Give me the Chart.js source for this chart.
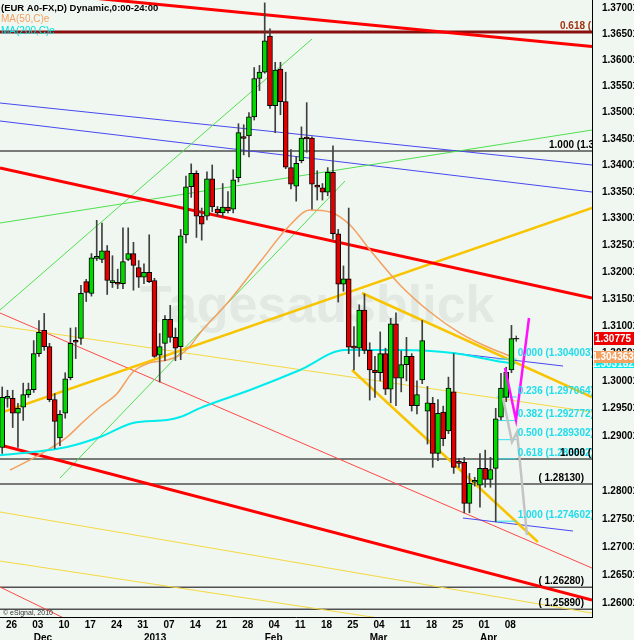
<!DOCTYPE html>
<html><head><meta charset="utf-8">
<script src="https://cdn.jsdelivr.net/npm/chart.js@4.4.0/dist/chart.umd.min.js"></script>
<style>html,body{margin:0;padding:0;background:#f0f7f0;}canvas{display:block;}</style>
</head><body>
<canvas id="c" width="634" height="640" style="width:634px;height:640px"></canvas>
<script>
// ---------------- DATA ----------------
const firstIndex = -2; // trading-day index of first candle (0 = 27 Nov 2012)
const opens  = [1.2879,1.2968,1.2968,1.2941,1.2952,1.2975,1.2984,1.3050,1.3093,1.3063,1.2966,1.2896,1.2941,1.3006,1.3073,1.3078,1.3183,1.3161,1.3226,1.3224,1.3240,1.3181,1.3181,1.3179,1.3224,1.3235,1.3209,1.3191,1.3200,1.3185,1.3047,1.3069,1.3113,1.3080,1.3063,1.3270,1.3360,1.3385,1.3305,1.3305,1.3375,1.3318,1.3311,1.3322,1.3318,1.3377,1.3453,1.3456,1.3492,1.3565,1.3577,1.3646,1.3513,1.3583,1.3521,1.3396,1.3361,1.3409,1.3452,1.3452,1.3363,1.3358,1.3350,1.3387,1.3272,1.3178,1.3188,1.3062,1.3060,1.3130,1.3056,1.3020,1.3015,1.3050,1.2985,1.3105,1.3005,1.3030,1.3045,1.2955,1.3002,1.2945,1.2959,1.2868,1.2943,1.2909,1.2980,1.2852,1.2852,1.2778,1.2816,1.2811,1.2841,1.2821,1.2841,1.2934,1.2970,1.3020];
const highs  = [1.2989,1.2983,1.2983,1.2959,1.2996,1.2996,1.3074,1.3111,1.3124,1.3069,1.2977,1.2946,1.3015,1.3097,1.3098,1.3176,1.3187,1.3235,1.3297,1.3292,1.3250,1.3231,1.3206,1.3283,1.3283,1.3256,1.3222,1.3216,1.3270,1.3189,1.3087,1.3120,1.3139,1.3097,1.3280,1.3380,1.3403,1.3390,1.3320,1.3388,1.3401,1.3323,1.3366,1.3351,1.3392,1.3479,1.3477,1.3500,1.3586,1.3590,1.3710,1.3660,1.3596,1.3596,1.3577,1.3430,1.3417,1.3473,1.3519,1.3454,1.3390,1.3366,1.3396,1.3437,1.3280,1.3212,1.3320,1.3100,1.3140,1.3160,1.3070,1.3045,1.3090,1.3060,1.3115,1.3125,1.3055,1.3080,1.3050,1.3000,1.3111,1.2990,1.2970,1.2966,1.2954,1.3007,1.3050,1.2859,1.2861,1.2832,1.2825,1.2868,1.2874,1.2861,1.2950,1.3014,1.3025,1.3102];
const lows   = [1.2868,1.2952,1.2915,1.2879,1.2928,1.2970,1.2979,1.3045,1.3056,1.2962,1.2877,1.2882,1.2932,1.3002,1.3041,1.3067,1.3146,1.3156,1.3222,1.3218,1.3159,1.3172,1.3170,1.3170,1.3222,1.3167,1.3172,1.3179,1.3181,1.3043,1.2998,1.3037,1.3071,1.3037,1.3039,1.3255,1.3340,1.3265,1.3260,1.3298,1.3313,1.3305,1.3303,1.3311,1.3311,1.3369,1.3420,1.3416,1.3486,1.3542,1.3575,1.3508,1.3462,1.3496,1.3394,1.3356,1.3333,1.3405,1.3425,1.3318,1.3335,1.3335,1.3343,1.3262,1.3145,1.3165,1.3050,1.3020,1.3045,1.3050,1.2965,1.2970,1.3000,1.2975,1.2960,1.2955,1.2980,1.3000,1.2945,1.2940,1.2995,1.2885,1.2843,1.2855,1.2882,1.2904,1.2832,1.2843,1.2761,1.2761,1.2809,1.2771,1.2807,1.2807,1.2745,1.2929,1.2962,1.3015];
const closes = [1.2970,1.2969,1.2941,1.2950,1.2975,1.2984,1.3050,1.3089,1.3063,1.2966,1.2926,1.2939,1.3004,1.3069,1.3071,1.3161,1.3163,1.3227,1.3228,1.3240,1.3185,1.3182,1.3178,1.3220,1.3235,1.3213,1.3191,1.3200,1.3183,1.3045,1.3063,1.3113,1.3080,1.3060,1.3268,1.3360,1.3385,1.3305,1.3290,1.3375,1.3322,1.3311,1.3322,1.3315,1.3373,1.3462,1.3451,1.3492,1.3565,1.3577,1.3637,1.3513,1.3581,1.3521,1.3397,1.3365,1.3404,1.3452,1.3450,1.3365,1.3359,1.3350,1.3387,1.3272,1.3178,1.3188,1.3062,1.3060,1.3130,1.3056,1.3020,1.3015,1.3050,1.2985,1.3105,1.3005,1.3030,1.3045,1.2955,1.2975,1.3074,1.2960,1.2868,1.2941,1.2895,1.2987,1.2843,1.2850,1.2778,1.2814,1.2817,1.2841,1.2821,1.2839,1.2931,1.2987,1.3016,1.30775];
const lastPrice = 1.30775;
const lastMarkIndex = 95.9;

// moving averages (index, value)
const ma50Idx  = [-0.51,4.0,10.34,13.5,16.63,19.8,22.91,26.1,29.39,31.87,33.8,35.68,41.39,47.10,52.82,56.63,60.44,64.25,68.06,73.77,79.49,85.2,90.91,95.3];
const ma50Val  = [1.28381,1.28600,1.28978,1.29260,1.29524,1.29760,1.30163,1.30330,1.30383,1.30475,1.30640,1.30879,1.31488,1.32193,1.32883,1.33163,1.33126,1.32883,1.32416,1.31766,1.31266,1.30879,1.30603,1.304363];
const ma200Idx = [-2.42,3.87,10.34,16.63,22.91,29.39,31.87,35.68,45.2,54.72,63.30,73.77,83.87,93.39,95.68];
const ma200Val = [1.28650,1.28706,1.28797,1.28978,1.29232,1.29287,1.29341,1.29505,1.29834,1.30200,1.30566,1.30566,1.30511,1.30346,1.303182];

// trend lines: [index, price] end points
const redTop      = [[-2.42,1.37368],[110.34,1.36261]];
const redMid      = [[-2.42,1.33952],[110.34,1.31525]];
const redLow      = [[-2.42,1.28833],[110.34,1.26054]];
const redThinA    = [[-2.42,1.31248],[110.34,1.26623]];
const redThinB    = [[-2.42,1.26285],[10.91,1.25683]];
const goldRise    = [[-2.42,1.29415],[110.34,1.33201]];
const goldUpper   = [[66.53,1.31618],[110.34,1.29706]];
const goldLower   = [[64.63,1.30200],[100.06,1.27087]];
const yellowThinA = [[-2.42,1.31008],[110.34,1.29433]];
const yellowThinB = [[-2.42,1.26748],[77.58,1.25626]];
const yellowThinC = [[-2.42,1.27625],[110.34,1.25824]];
const greenA      = [[-2.42,1.31303],[57.01,1.36405]];
const greenB      = [[9.01,1.28237],[63.30,1.33708]];
const greenC      = [[-2.42,1.32920],[110.34,1.34670]];
const blueA       = [[-2.42,1.35183],[110.34,1.34009]];
const blueB       = [[-2.42,1.34841],[110.34,1.33501]];
const blueC       = [[83.87,1.30511],[104.82,1.30273]];
const blueD       = [[85.77,1.27517],[106.72,1.27284]];
const magentaPath = [[93.77,1.30236],[95.87,1.29287],[98.34,1.31156]];
const grayPath    = [[93.39,1.29688],[95.10,1.28887],[96.06,1.29069],[97.96,1.27212]];

// horizontal levels
const levelValues = [1.34273,1.28580,1.28130,1.26280,1.25890];
const levelLabels = ["1.000 (1.34273)","1.000 (1.28580)","( 1.28130)","( 1.26280)","( 1.25890)"];
const topFibValue = 1.36540;
const topFibLabel = "0.618 (1.36540)";
const fibValues = [1.304003,1.297064,1.292772,1.289302,1.285832,1.274602];
const fibRatios = ["0.000","0.236","0.382","0.500","0.618","1.000"];
const fibStartIdx = 92.2, fibEndIdx = 96.0;

// axis ticks
const yTickValues = [1.370014,1.365014,1.360014,1.355014,1.350014,1.345013,1.340013,1.335013,1.330013,1.325013,1.320013,1.315013,1.310013,1.305013,1.300013,1.295013,1.290013,1.280013,1.275013,1.270013,1.265013,1.260013];
const yTickLabels = ["1.370014","1.365014","1.360014","1.355014","1.350014","1.345013","1.340013","1.335013","1.330013","1.325013","1.320013","1.315013","1.310013","1.305013","1.300013","1.295013","1.290013","1.280013","1.275013","1.270013","1.265013","1.260013"];
const dayTickIdx = [-1,4,9,14,19,24,29,34,39,44,49,54,59,64,69,74,79,84,89,94];
const dayLabels  = ["26","03","10","17","24","31","07","14","21","28","04","11","18","25","04","11","18","25","01","08"];
const monthTickIdx = [4,25,48,68,89];
const monthLabels  = ["Dec","2013","Feb","Mar","Apr"];

// ---------------- STYLE ----------------
const X_MIN = -2.42, X_MAX = 110.34, Y_MIN = 1.25754, Y_MAX = 1.37156;
const dayLabelShift = 0.76;
const FONT = '"Liberation Sans", Arial, sans-serif';
const GREEN = '#00d800', RED = '#e00000';

const idx = opens.map((_, k) => firstIndex + k);
const wickData = idx.map((x, k) => ({x, y: [lows[k], highs[k]]}));
const bodyData = idx.map((x, k) => ({x, y: [Math.min(opens[k], closes[k]), Math.max(opens[k], closes[k])]}));
const bodyColors = idx.map((x, k) => closes[k] >= opens[k] ? GREEN : RED);

function line(points, color, width, order, extra) {
  return Object.assign({
    type: 'line', data: points.map(p => ({x: p[0], y: p[1]})),
    borderColor: color, borderWidth: width, pointRadius: 0, fill: false,
    tension: 0, order: order, clip: 0
  }, extra || {});
}
function zipPts(a, b) { return a.map((x, k) => [x, b[k]]); }

const datasets = [];
datasets.push(line([[X_MIN-1, topFibValue],[X_MAX+1, topFibValue]], '#8a1010', 3, 30));
levelValues.forEach(v => datasets.push(line([[X_MIN-1, v],[X_MAX+1, v]], '#505050', 1.5, 30)));
datasets.push(line(yellowThinA, '#f4d840', 1, 29));
datasets.push(line(yellowThinB, '#f4d840', 1, 29));
datasets.push(line(yellowThinC, '#f4d840', 1, 29));
datasets.push(line(greenA, '#50e050', 1, 29));
datasets.push(line(greenB, '#50e050', 1, 29));
datasets.push(line(greenC, '#50e050', 1, 29));
datasets.push(line(blueA, '#4848f0', 1, 29));
datasets.push(line(blueB, '#4848f0', 1, 29));
datasets.push(line(blueC, '#4848f0', 1, 29));
datasets.push(line(blueD, '#4848f0', 1, 29));
datasets.push(line(redThinA, '#ff4848', 1, 29));
datasets.push(line(redThinB, '#ff4848', 1, 29));
datasets.push(line(redTop, '#ff0000', 3, 28));
datasets.push(line(redMid, '#ff0000', 3, 28));
datasets.push(line(redLow, '#ff0000', 3, 28));
datasets.push(line(goldRise, '#f8c400', 2.5, 28));
datasets.push(line(goldUpper, '#f8c400', 2.5, 28));
datasets.push(line(goldLower, '#f8c400', 2.5, 28));
datasets.push(line(zipPts(ma200Idx, ma200Val), '#00ecec', 2, 27, {cubicInterpolationMode: 'monotone'}));
datasets.push(line(zipPts(ma50Idx, ma50Val), '#f4a060', 1.5, 27, {cubicInterpolationMode: 'monotone'}));
fibValues.forEach(v => datasets.push(line([[fibStartIdx, v],[fibEndIdx, v]], '#30e0f0', 1, 26)));
datasets.push({type: 'bar', data: wickData, backgroundColor: '#404040', borderWidth: 0, barThickness: 1, grouped: false, minBarLength: 1, order: 20});
datasets.push({type: 'bar', data: bodyData, backgroundColor: bodyColors, borderColor: '#000', borderWidth: 1, borderSkipped: false, barThickness: 5, grouped: false, minBarLength: 2, order: 19});
datasets.push(line(grayPath, '#c4c4c4', 2.5, 5));
datasets.push(line(magentaPath, '#ff10ff', 2.5, 4));
datasets.push({type: 'scatter', data: [{x: lastMarkIndex, y: lastPrice}], pointStyle: 'cross', pointRadius: 3, borderColor: '#000', borderWidth: 1, order: 3});

const tickFont = {family: FONT, size: 10, weight: 'bold'};
function noPad(s) { s.paddingLeft = 0; s.paddingRight = 0; s.paddingTop = 0; s.paddingBottom = 0; }

const deco = {
  id: 'deco',
  beforeDraw(chart) {
    const c = chart.ctx; c.save(); c.fillStyle = '#f0f7f0'; c.fillRect(0, 0, chart.width, chart.height); c.restore();
  },
  beforeDatasetsDraw(chart) {
    const c = chart.ctx; c.save();
    c.font = 'bold 52px ' + FONT; c.fillStyle = '#e2e8e2'; c.textBaseline = 'alphabetic';
    c.fillText('Tagesausblick', 140, 322);
    c.restore();
  },
  afterDatasetsDraw(chart) {
    const c = chart.ctx, a = chart.chartArea, ys = chart.scales.y, xs = chart.scales.x;
    c.save();
    c.beginPath(); c.rect(a.left, a.top, a.right - a.left, a.bottom - a.top); c.clip();
    c.font = 'bold 10px ' + FONT; c.textBaseline = 'bottom'; c.fillStyle = '#20dcec';
    const fx = xs.getPixelForValue(fibEndIdx) + 1;
    fibValues.forEach((v, k) => c.fillText(fibRatios[k] + ' (' + v.toFixed(6) + ')', fx, ys.getPixelForValue(v) - 1));
    c.fillStyle = '#000';
    c.textAlign = 'left';
    c.fillText(levelLabels[0], 549, ys.getPixelForValue(levelValues[0]) - 1);
    c.fillText(levelLabels[1], 560, ys.getPixelForValue(levelValues[1]) - 1);
    c.textAlign = 'right';
    for (let k = 2; k < levelLabels.length; k++) c.fillText(levelLabels[k], 584, ys.getPixelForValue(levelValues[k]) - 1);
    c.textAlign = 'left'; c.fillStyle = '#a03010';
    c.fillText(topFibLabel, 560, ys.getPixelForValue(topFibValue) - 1);
    c.textBaseline = 'alphabetic';
    c.font = 'bold 9.5px ' + FONT; c.fillStyle = '#000'; c.fillText('(EUR A0-FX,D) Dynamic,0:00-24:00', 1, 11);
    c.font = '10px ' + FONT; c.fillStyle = '#f4a060'; c.fillText('MA(50,C)e', 1, 22);
    c.fillStyle = '#00e0e0'; c.fillText('MA(200,C)e', 1, 34);
    c.font = '7px ' + FONT; c.fillStyle = '#333'; c.fillText('\u00a9 eSignal, 2010', 3, 615);
    c.restore();
    c.save();
    c.font = 'bold 10px ' + FONT; c.textAlign = 'center'; c.textBaseline = 'middle';
    const boxes = [[ma200Val[ma200Val.length-1], '#00ecec', 9], [ma50Val[ma50Val.length-1], '#f4a060', 12], [lastPrice, '#ee0000', 13]];
    boxes.forEach(b => {
      const y = ys.getPixelForValue(b[0]);
      c.fillStyle = b[1]; c.fillRect(594, Math.round(y - b[2]/2), 40, b[2]);
      c.fillStyle = '#fff'; c.fillText(b[0] === lastPrice ? '1.30775' : b[0].toFixed(6), 613, y + 0.5);
    });
    c.restore();
  }
};

new Chart(document.getElementById('c'), {
  type: 'bar',
  data: {datasets},
  plugins: [deco],
  options: {
    responsive: false, animation: false, devicePixelRatio: 1, events: [],
    layout: {padding: 0, autoPadding: false},
    plugins: {legend: {display: false}, tooltip: {enabled: false}},
    scales: {
      x: {
        type: 'linear', min: X_MIN, max: X_MAX, offset: false, position: 'bottom', weight: 0,
        grid: {display: false}, border: {display: true, color: '#000', width: 1},
        ticks: {autoSkip: false, maxRotation: 0, padding: -6, color: '#000', font: tickFont,
                callback: (v, i) => dayLabels[i]},
        afterBuildTicks: s => { s.ticks = dayTickIdx.map(v => ({value: v + dayLabelShift})); },
        afterFit: s => { s.height = 13; noPad(s); }
      },
      x2: {
        type: 'linear', min: X_MIN, max: X_MAX, offset: false, position: 'bottom', weight: 1,
        grid: {display: false}, border: {display: false},
        ticks: {autoSkip: false, maxRotation: 0, padding: -6, align: 'start', color: '#000', font: tickFont,
                callback: (v, i) => monthLabels[i]},
        afterBuildTicks: s => { s.ticks = monthTickIdx.map(v => ({value: v})); },
        afterFit: s => { s.height = 10; noPad(s); }
      },
      y: {
        type: 'logarithmic', min: Y_MIN, max: Y_MAX, position: 'right', bounds: 'data',
        grid: {display: false}, border: {display: true, color: '#000', width: 1},
        ticks: {autoSkip: false, padding: 2, color: '#000', font: tickFont,
                callback: (v, i) => yTickLabels[i]},
        afterBuildTicks: s => { s.ticks = yTickValues.map(v => ({value: v})); },
        afterFit: s => { s.width = 42; noPad(s); }
      }
    }
  }
});
</script>
</body></html>
